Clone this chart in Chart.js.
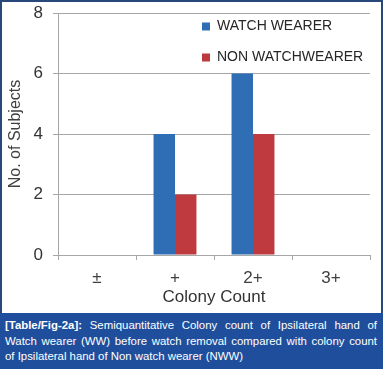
<!DOCTYPE html>
<html>
<head>
<meta charset="utf-8">
<script src="https://cdn.jsdelivr.net/npm/chart.js@4/dist/chart.umd.min.js"></script>
<style>
  body { margin: 0; background: #fff; }
  #wrap { position: relative; width: 383px; height: 369px; overflow: hidden; }
  #box {
    position: absolute; left: 0; top: 0; width: 383px; height: 315px;
    box-sizing: border-box; border: 2px solid #28487a; border-bottom: none;
  }
  #box canvas { display: block; }
  #caption {
    position: absolute; left: 0; top: 313px; width: 383px; height: 56px;
    box-sizing: border-box; padding: 5px 6px 0 5px;
    background: #1f4f9c; color: #fff;
    font: 11.4px "Liberation Sans", Arial, sans-serif; line-height: 15.5px;
  }
  #caption div { text-align: justify; text-align-last: justify; white-space: nowrap; }
  #caption div.last { text-align-last: left; }
</style>
</head>
<body>
<div id="wrap">
  <div id="box"><canvas id="chart" width="379" height="313"></canvas></div>
  <div id="caption">
    <div><b>[Table/Fig-2a]:</b> Semiquantitative Colony count of Ipsilateral hand of</div>
    <div>Watch wearer (WW) before watch removal compared with colony count</div>
    <div class="last">of Ipsilateral hand of Non watch wearer (NWW)</div>
  </div>
</div>
<script>
// chart data
const categories = ['\u00b1', '+', '2+', '3+'];
const watchWearer = [0, 4, 6, 0];
const nonWatchWearer = [0, 2, 4, 0];
const seriesNames = ['WATCH WEARER', 'NON WATCHWEARER'];
const seriesColors = ['#2f6db5', '#bf3a3f'];

const textColor = '#404040';
const gridColor = '#a6a6a6';

// legend drawn inside the plot, top right
const innerLegend = {
    id: 'innerLegend',
    afterDraw(chart) {
        const ctx = chart.ctx;
        ctx.save();
        ctx.font = '14px "Liberation Sans", Arial, sans-serif';
        ctx.textBaseline = 'middle';
        chart.data.datasets.forEach((ds, i) => {
            const y = 24.5 + i * 31;
            ctx.fillStyle = ds.backgroundColor;
            ctx.fillRect(200, y - 4, 8, 8);
            ctx.fillStyle = '#262626';
            ctx.fillText(ds.label, 215, y);
        });
        ctx.restore();
    }
};

new Chart(document.getElementById('chart'), {
    type: 'bar',
    data: {
        labels: categories,
        datasets: [{
            label: seriesNames[0],
            data: watchWearer,
            backgroundColor: seriesColors[0]
        }, {
            label: seriesNames[1],
            data: nonWatchWearer,
            backgroundColor: seriesColors[1]
        }]
    },
    options: {
        responsive: false,
        animation: false,
        layout: {
            padding: { left: 0, top: 11, right: 11, bottom: 0 }
        },
        datasets: {
            bar: {
                categoryPercentage: 0.55,
                barPercentage: 1
            }
        },
        plugins: {
            legend: { display: false },
            tooltip: { enabled: false }
        },
        scales: {
            x: {
                afterFit: function(scale) {
                    scale.height = 60;
                    scale.paddingLeft = 0;
                    scale.paddingRight = 0;
                },
                grid: {
                    offset: true,
                    drawOnChartArea: false,
                    tickLength: 5,
                    color: gridColor
                },
                border: { color: gridColor },
                ticks: {
                    color: textColor,
                    padding: 8,
                    font: { family: '"Liberation Sans", Arial, sans-serif', size: 17 }
                },
                title: {
                    display: true,
                    text: 'Colony Count',
                    color: '#333333',
                    padding: { top: 0, bottom: 7 },
                    font: { family: '"Liberation Sans", Arial, sans-serif', size: 17 }
                }
            },
            y: {
                min: 0,
                max: 8,
                afterFit: function(scale) {
                    scale.width = 56;
                    scale.paddingTop = 0;
                    scale.paddingBottom = 0;
                },
                grid: {
                    color: gridColor,
                    tickLength: 5
                },
                border: { color: gridColor },
                ticks: {
                    stepSize: 2,
                    color: '#333333',
                    padding: 10,
                    font: { family: '"Liberation Sans", Arial, sans-serif', size: 17 }
                },
                title: {
                    display: true,
                    text: 'No. of Subjects',
                    color: textColor,
                    padding: { top: 4, bottom: 0 },
                    font: { family: '"Liberation Sans", Arial, sans-serif', size: 16 }
                }
            }
        }
    },
    plugins: [innerLegend]
});
</script>
</body>
</html>
